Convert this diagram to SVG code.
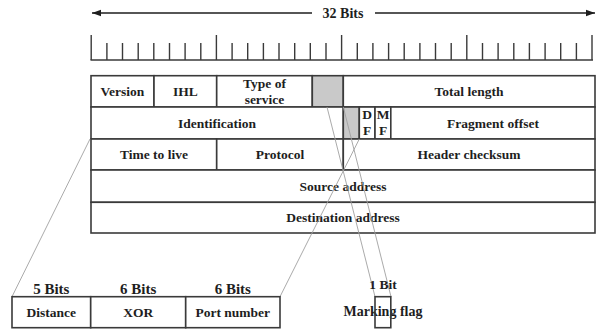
<svg xmlns="http://www.w3.org/2000/svg" width="598" height="329" viewBox="0 0 598 329">
<style>
text{font-family:"Liberation Serif","Times New Roman",serif;font-weight:bold;fill:#1e1e1e;text-anchor:middle}
.t{font-size:13.5px}
.b{font-size:15px}
.cell{fill:#fff;stroke:#3a3a3a;stroke-width:1.6}
.gray{fill:#c9c9c9;stroke:#3a3a3a;stroke-width:1.6}
.ln{stroke:#3a3a3a;stroke-width:1.6;fill:none}
.thin{stroke:#a0a0a0;stroke-width:0.9;fill:none}
.tick{stroke:#3a3a3a;stroke-width:1.4}
</style>
<defs>
<marker id="ah" markerWidth="10" markerHeight="8" refX="9" refY="4" orient="auto-start-reverse" markerUnits="userSpaceOnUse">
<path d="M0,0.8 L9,4 L0,7.2 Z" fill="#1e1e1e"/>
</marker>
</defs>
<rect width="598" height="329" fill="#fff"/>

<g id="width-arrow">
<line x1="92" y1="13" x2="312" y2="13" stroke="#1e1e1e" stroke-width="1.5" marker-start="url(#ah)"/>
<line x1="375" y1="13" x2="595" y2="13" stroke="#1e1e1e" stroke-width="1.5" marker-end="url(#ah)"/>
<text class="t" x="343" y="18" style="font-size:14px">32 Bits</text>
</g>

<g id="ruler">
<line class="ln" x1="90.5" y1="60" x2="593" y2="60"/>
<path class="tick" d="M91.2,35V60M106.9,43V60M122.5,43V60M138.2,43V60M153.8,43V60M169.5,43V60M185.1,43V60M200.8,43V60M216.4,35V60M232.1,43V60M247.7,43V60M263.4,43V60M279.0,43V60M294.7,43V60M310.3,43V60M326.0,43V60M341.6,35V60M357.3,43V60M372.9,43V60M388.6,43V60M404.2,43V60M419.9,43V60M435.5,43V60M451.2,43V60M466.8,35V60M482.5,43V60M498.1,43V60M513.8,43V60M529.4,43V60M545.1,43V60M560.7,43V60M576.4,43V60M592.0,35V60"/>
</g>

<g id="header">
<g id="row1">
<rect class="cell" x="91" y="75.7" width="63" height="31.3"/>
<rect class="cell" x="154" y="75.7" width="62.7" height="31.3"/>
<rect class="cell" x="216.7" y="75.7" width="95.6" height="31.3"/>
<rect class="gray" x="312.3" y="75.7" width="31" height="31.3"/>
<rect class="cell" x="343.3" y="75.7" width="251.7" height="31.3"/>
<text class="t" x="122.5" y="96">Version</text>
<text class="t" x="185.4" y="96">IHL</text>
<text class="t" x="264.5" y="87.5">Type of</text>
<text class="t" x="264.5" y="104">service</text>
<text class="t" x="469" y="96">Total length</text>
</g>
<g id="row2">
<rect class="cell" x="91" y="107" width="252.3" height="32"/>
<rect class="gray" x="343.3" y="107" width="16" height="32"/>
<rect class="cell" x="359.3" y="107" width="15.7" height="32"/>
<rect class="cell" x="375" y="107" width="15.8" height="32"/>
<rect class="cell" x="390.8" y="107" width="204.2" height="32"/>
<text class="t" x="217" y="127.6">Identification</text>
<text class="t" x="367.2" y="119">D</text>
<text class="t" x="367.2" y="135">F</text>
<text class="t" x="383" y="119">M</text>
<text class="t" x="383" y="135">F</text>
<text class="t" x="493" y="127.6">Fragment offset</text>
</g>
<g id="row3">
<rect class="cell" x="91" y="139" width="125.7" height="31"/>
<rect class="cell" x="216.7" y="139" width="126.6" height="31"/>
<rect class="cell" x="343.3" y="139" width="251.7" height="31"/>
<text class="t" x="154" y="159.2">Time to live</text>
<text class="t" x="280" y="159.2">Protocol</text>
<text class="t" x="469" y="159.2">Header checksum</text>
</g>
<g id="row4">
<rect class="cell" x="91" y="170" width="504" height="32.3"/>
<text class="t" x="343" y="190.8">Source address</text>
</g>
<g id="row5">
<rect class="cell" x="91" y="202.3" width="504" height="30.7"/>
<text class="t" x="343" y="222.2">Destination address</text>
</g>
</g>

<g id="connectors">
<line class="thin" x1="90" y1="139" x2="12" y2="296.7"/>
<line class="thin" x1="359.3" y1="139" x2="280" y2="296.7"/>
<line class="thin" x1="327" y1="107" x2="375" y2="296.7"/>
<line class="thin" x1="343.3" y1="107" x2="391" y2="296.7"/>
</g>

<g id="mapping">
<g id="distance">
<rect class="cell" x="12" y="296.7" width="78.7" height="31"/>
<text class="b" x="51.3" y="293.5">5 Bits</text>
<text class="t" x="51.3" y="317">Distance</text>
</g>
<g id="xor">
<rect class="cell" x="90.7" y="296.7" width="95" height="31"/>
<text class="b" x="138.2" y="293.5">6 Bits</text>
<text class="t" x="138.2" y="317">XOR</text>
</g>
<g id="port">
<rect class="cell" x="185.7" y="296.7" width="94.3" height="31"/>
<text class="b" x="232.8" y="293.5">6 Bits</text>
<text class="t" x="232.8" y="317">Port number</text>
</g>
</g>

<g id="marking-flag">
<text class="t" x="383" y="289">1 Bit</text>
<text class="t" x="383" y="316" style="font-size:14px">Marking flag</text>
<rect x="375" y="296.7" width="15.8" height="31" fill="none" stroke="#3a3a3a" stroke-width="1.6"/>
</g>
</svg>
